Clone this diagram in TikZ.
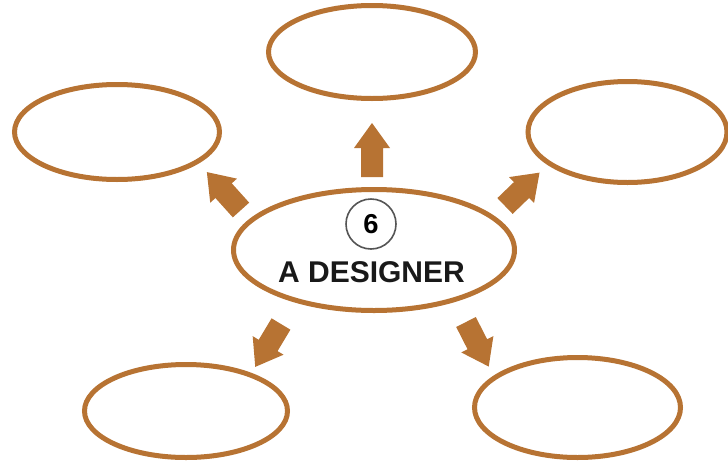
\documentclass[tikz,border=0pt]{standalone}
\usepackage{fontspec}
\setmainfont{Liberation Sans}
\usetikzlibrary{shapes.geometric}
\definecolor{brn}{RGB}{183,115,51}
\definecolor{ringgray}{RGB}{85,85,85}
\tikzset{
  bubble/.style={ellipse, draw=brn, line width=3.75pt, inner sep=0pt, fill=white},
  pics/barrow/.style={code={
    \fill[brn] (0,-11) -- ({#1-25},-11) -- ({#1-25},-18) -- (#1,0) -- ({#1-25},18) -- ({#1-25},11) -- (0,11) -- cycle;
  }}
}
\begin{document}
\begin{tikzpicture}[x=0.75pt,y=-0.75pt]
\useasboundingbox (0,0) rectangle (728,461);
% outer bubbles
\node[bubble, minimum width=155.25pt, minimum height=69.75pt] (top) at (372,52) {};
\node[bubble, minimum width=153.75pt, minimum height=71.25pt] (left) at (117,132) {};
\node[bubble, minimum width=149.25pt, minimum height=75.75pt] (right) at (627.5,132) {};
\node[bubble, minimum width=152.25pt, minimum height=69.75pt] (botleft) at (186,411) {};
\node[bubble, minimum width=154.5pt, minimum height=75pt] (botright) at (577.5,407.5) {};
% block arrows
\pic[rotate=90] at (372,177) {barrow=54};
\pic[rotate=132] at (241,210) {barrow=51};
\pic[rotate=44] at (505,206) {barrow=48};
\pic[rotate=-121] at (281,324) {barrow=50};
\pic[rotate=-63] at (466,322) {barrow=50};
% centre bubble
\node[bubble, minimum width=210.75pt, minimum height=90.75pt] (centre) at (374,250) {};
\node[circle, draw=ringgray, line width=1.2pt, minimum size=37.5pt, inner sep=0pt] (ring) at (371,224) {};
\node[anchor=base, inner sep=0pt, font=\fontsize{20.5pt}{22pt}\selectfont\bfseries] (num) at (371,233.5) {6};
\node[anchor=base, inner sep=0pt, text=black!90, font=\fontsize{22.5pt}{24pt}\selectfont\bfseries] (label) at (371.5,282) {A DESIGNER};
\end{tikzpicture}
\end{document}
